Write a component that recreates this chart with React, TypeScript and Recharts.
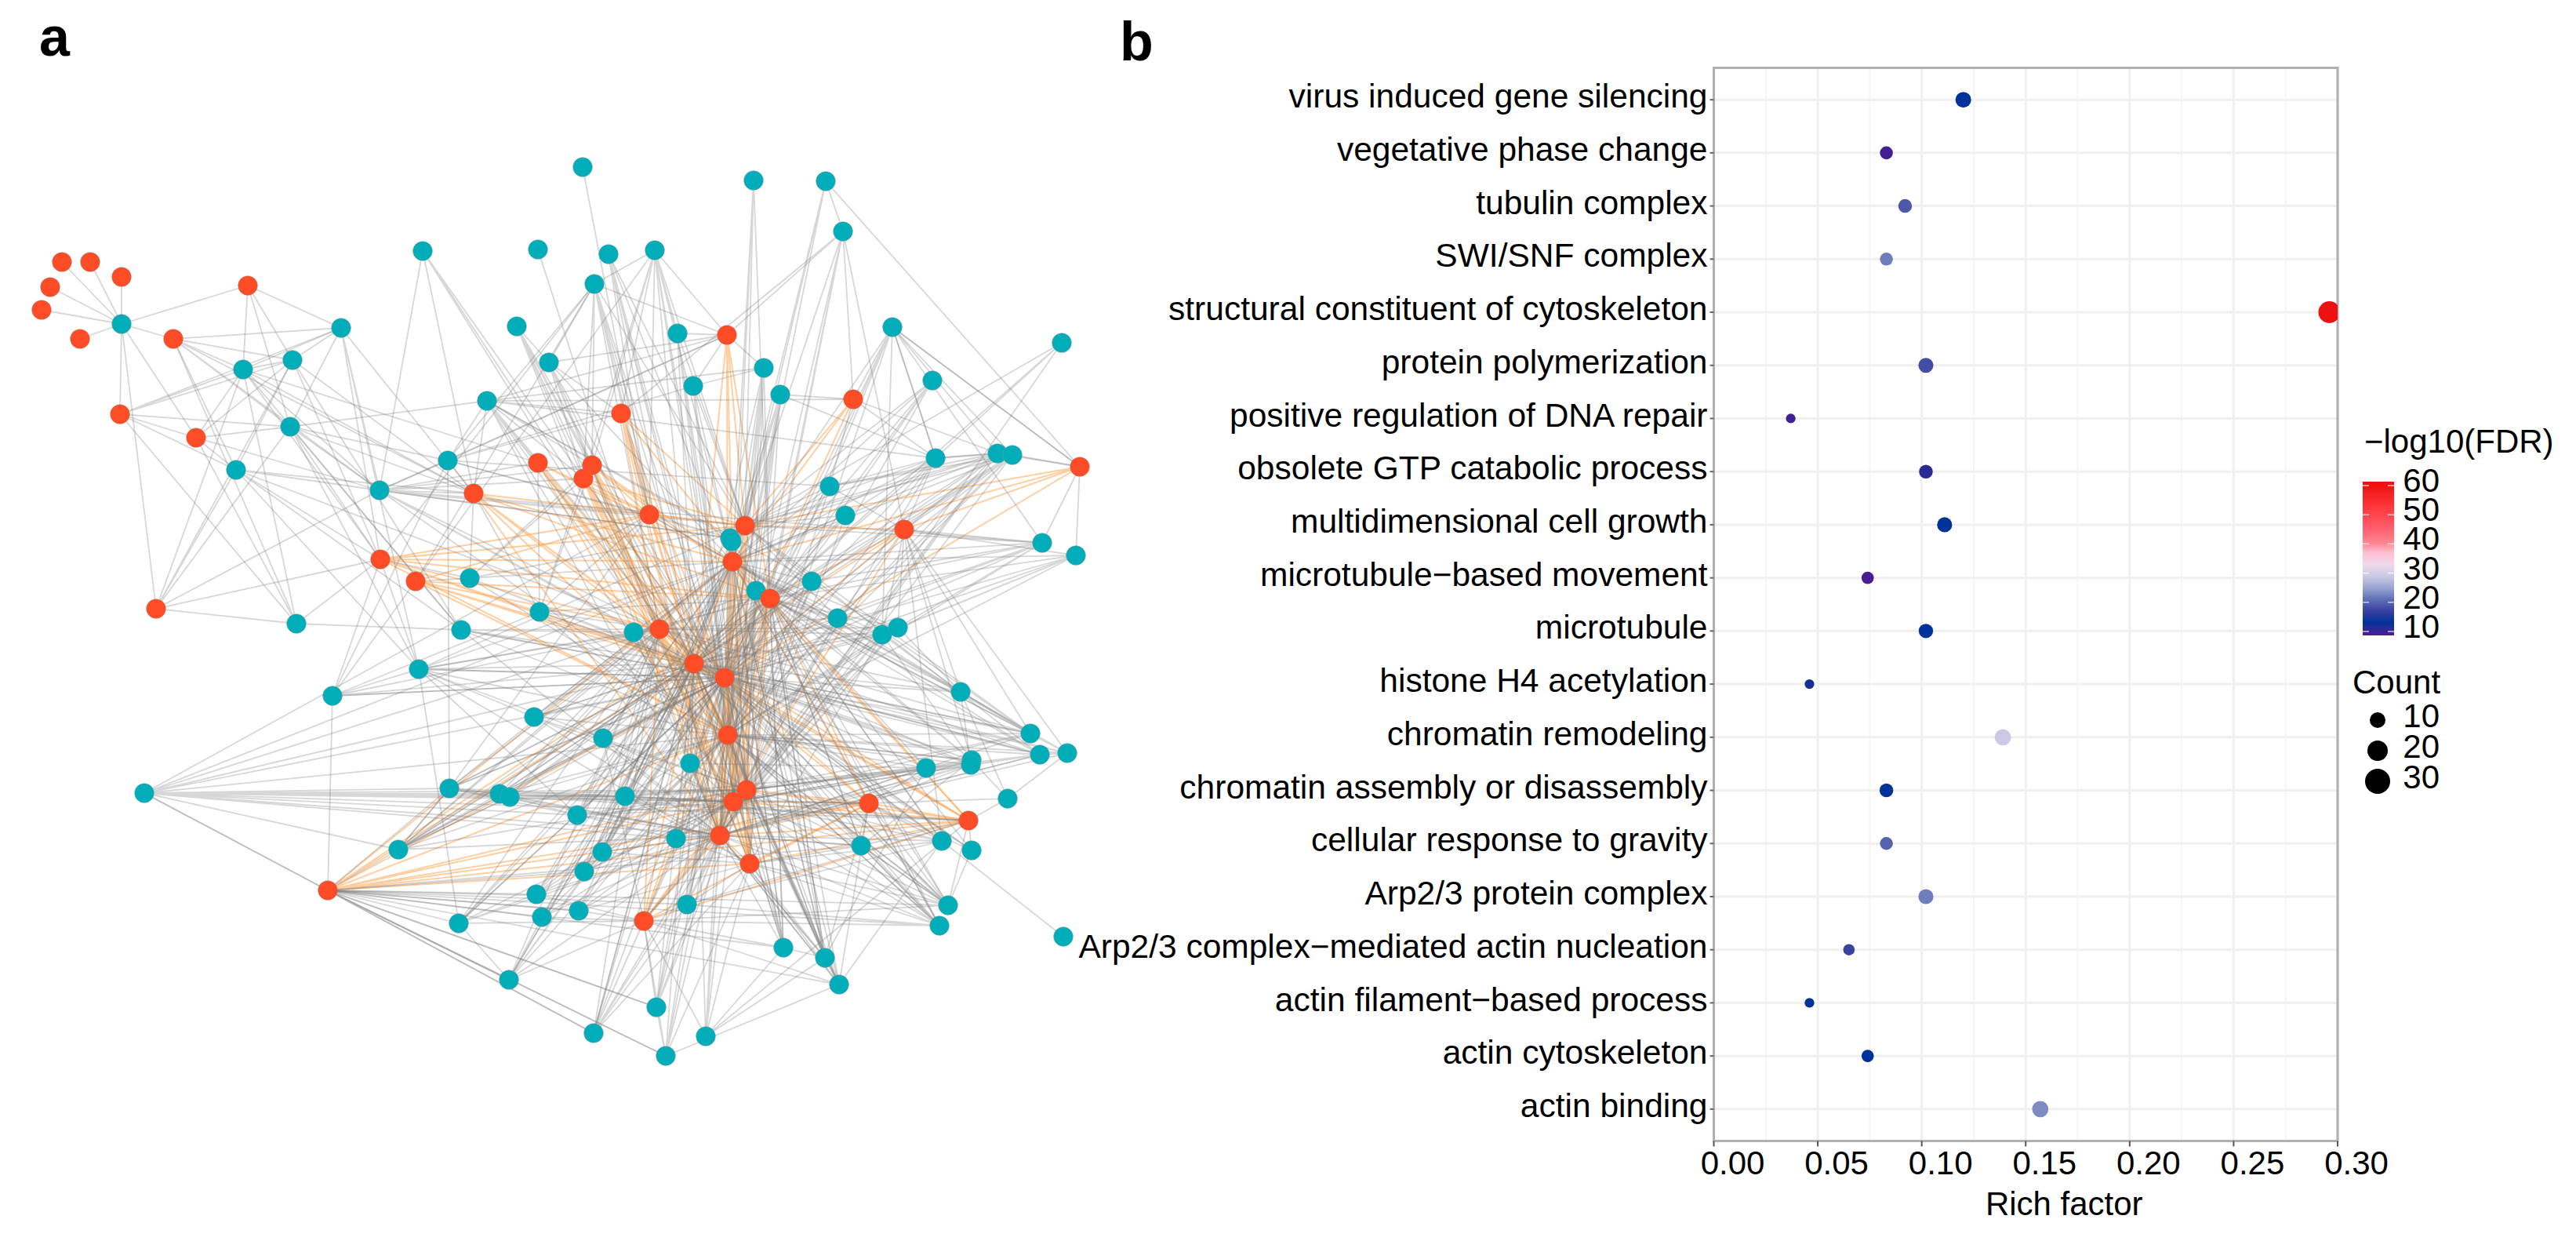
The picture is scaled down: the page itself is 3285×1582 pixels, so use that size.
import * as React from "react";
import {
  CartesianGrid,
  Cell,
  ComposedChart,
  Line,
  ReferenceArea,
  Scatter,
  ScatterChart,
  XAxis,
  YAxis,
  ZAxis,
} from "recharts";

const FONT = '"Liberation Sans", Arial, sans-serif';

// panel a: layout position of every node
const redNodes = [
  [79, 334], [115, 334], [155, 353], [64, 366], [53, 395], [102, 432], [316, 364], [221, 432], [153, 528], [250, 558],
  [485, 713], [530, 741], [418, 1135], [199, 776], [604, 629], [686, 590], [755, 593], [744, 610], [792, 527], [927, 427],
  [1088, 509], [1377, 595], [828, 656], [950, 670], [1153, 675], [934, 716], [982, 763], [841, 802], [885, 846], [924, 864],
  [928, 937], [952, 1007], [935, 1022], [918, 1065], [956, 1101], [1108, 1024], [1235, 1046], [821, 1174],
];

const tealNodes = [
  [155, 413], [435, 418], [373, 459], [310, 471], [370, 544], [301, 599], [484, 625], [743, 213], [961, 230], [1053, 231],
  [1075, 295], [539, 320], [686, 318], [776, 324], [835, 319], [758, 362], [659, 416], [864, 425], [700, 462], [884, 492],
  [974, 469], [995, 503], [621, 511], [571, 587], [1138, 417], [1354, 437], [1189, 485], [1193, 584], [1272, 578], [1291, 580],
  [1058, 620], [1078, 657], [1329, 692], [1372, 708], [931, 686], [933, 690], [378, 795], [599, 737], [588, 803], [534, 853],
  [424, 887], [184, 1011], [573, 1005], [637, 1012], [650, 1016], [508, 1083], [585, 1177], [688, 780], [808, 806], [964, 753],
  [1035, 741], [1068, 788], [1125, 809], [1145, 800], [681, 914], [769, 941], [880, 973], [797, 1015], [736, 1039], [862, 1069],
  [768, 1086], [745, 1111], [684, 1140], [691, 1169], [738, 1161], [876, 1153], [1098, 1078], [999, 1208], [1052, 1221], [1070, 1255],
  [1356, 1194], [1314, 935], [1326, 962], [1361, 960], [1239, 969], [1238, 975], [1181, 979], [1285, 1018], [1201, 1072], [1239, 1084],
  [1209, 1154], [1198, 1180], [649, 1249], [837, 1284], [757, 1317], [900, 1321], [849, 1346], [1225, 882],
];

// panel a: grey links, read as source -> targets
const grayLinks = [
  ["t0", "r0 r1 r2 r3 r4 r5 r6 r7 r8 r9 r13"],
  ["r6", "t1 t2 t2 t3 t4 t4"],
  ["r7", "t1 t2 t3 t4 t4 t5 t6 r14"],
  ["r8", "t1 t2 t3 t3 t4 t5 r9"],
  ["r9", "t2 t2 t4 t4 t5 t6 t6 t3"],
  ["t1", "t2 t3 t6 t4 r10 r14 t39"],
  ["t2", "t3 t5 r14 r14 r10 t38"],
  ["t3", "r10 r14 t6 t38 r15"],
  ["t4", "r10 r10 r14 t38 t39 t6"],
  ["t5", "t6 r10 r14 r27 t39 t38"],
  ["t6", "r14 r15 t23 r16 r17 r19 r22 r23 r27 r28 r29 r30 t32 t34"],
  ["t7", "r22"],
  ["t8", "r30 t67 r23 r25"],
  ["t9", "r21 t10 r25 r25 r29 r23"],
  ["t10", "r19 r19 r20 r24 r25 r26 r30 r33 r18"],
  ["t11", "t6 r14 r27 r28 r28 r29"],
  ["t12", "r27"],
  ["t13", "r22 r23 r23 r28 r29 r25 r30 r31"],
  ["t14", "r19 t17 r18 r22 r23 r25 r28 r29 r17 r16 r11 r30"],
  ["t15", "t14 r19 r16 r17 r22 r23 r27 r28 r29 r33 r10 r11 r30 r30"],
  ["t16", "t18 r16 r17 r17 r28 r27 r27 r29 r33"],
  ["t17", "r19 r23 r28 r29 r31 r34 r32 r23"],
  ["t18", "t15 r18 r19 r16 r17 r27 r28 r29 r34 r30 r25"],
  ["t19", "r19 r23 r25 r30 r31 r32 r23 r29"],
  ["t20", "t19 r19 r23 r23 r25 r26 r28 r29 r30 r31 r32 r33"],
  ["t21", "r20 t27 r23 r25 r28 r29 r30 r32 r33 r34 r25"],
  ["t22", "r19 r18 t20 r16 r17 r15 r28 r29 r30 t4 t23 r14 r33 r32 r20 t27"],
  ["t23", "t4 r14 r19 t15 t6 t42 t19 r18 r22 t40 t30"],
  ["t24", "r21 r20 t52 r25 r26 r26 r29 r33 r37 t27"],
  ["t25", "r23 r26 r33 t27"],
  ["t26", "r25 r26 r28 r29 r30 t34"],
  ["t27", "r20 r23 r25 r26 r28 r29 r30 r24 t30 t31 r32 t24 t28"],
  ["t28", "r21 r20 t24 t27 r23 r25 r26 r28 r29 r30 r33 r24 t30 t31 t34 r31 r32 t29"],
  ["t29", "r21 t24 r23 r25 r26 r28 r29 r30 r24 t30 t50 t51 r33"],
  ["t30", "r23 r25 r26 r24 r28 r29 r33 r20"],
  ["t31", "r23 r25 r26 r28 r29 r31"],
  ["t32", "r24 r24 r21 t24 r26 r28 r29 r30 t53 r25 t51 r23 t50"],
  ["t33", "r21 r24 r24 r26 r28 r25 r30 r29 t53 t52"],
  ["t34", "r22 r25 r27 r28 r29 r30 r31 t6 r32 r33 t22 t23 r26"],
  ["t36", "r13 r10 r10 t38 r8 r9 r7 t3"],
  ["t37", "r16 r17 r14 r23 r25 r28 r29 r30 r11"],
  ["t38", "t48 r27 r28 r29 r30 r33"],
  ["t39", "t40 t40 r10 r27 r28 r29 r30 t55 r25 r23 t58 r34"],
  ["t40", "r10 r11 r27 r28 r29 t47"],
  ["t41", "r25 r27 r28 r28 r29 r22 r30 t42 t43 t44 t57 r31 r32 r33 t58 t59 t45 r12 t66 r36"],
  ["t42", "t43 r27 r28 r29 r22 t45 r32 r12 r33"],
  ["t43", "r31 r32 r33 r28 r29 t57 r27 r30 r36 t42 r35 t45"],
  ["t44", "r31 r32 r32 r33 r28 r29 t57 r27 r30 r36 r35 r25 r26 t45"],
  ["t45", "r12 r27 r28 t42 r29 r30 r31 r33 t44 t44"],
  ["t46", "t39 t82 r12 t62 r27 r28 t60 r29 r33 r37"],
  ["t47", "r22 r27 r28 r29 r30 r31 r14 r15 r16 r17 r26"],
  ["t48", "r27 r28 r25 r29 r30 r33 r26 t39"],
  ["t49", "r26 r25 r28 r29 r30 r31 r32 r33 r34 r27"],
  ["t50", "r23 r25 r26 r28 r29 r30 r31 r33 r27 t22"],
  ["t51", "r25 r26 r28 r29 r30 r31 r24 r23 r27 r32"],
  ["t52", "r24 r25 r26 r28 r29 r30 r31 r27 r32 r34 r37"],
  ["t53", "r24 r26 r28 r29 r25 r37 r33 r31 r30 r27"],
  ["t54", "r27 r28 r29 r30 r32 r33 t39 r25 r31"],
  ["t55", "r27 r28 r29 r31 r32 r33 r25 r37"],
  ["t56", "r28 r29 r30 r31 r32 r33 r25 r26"],
  ["t57", "r28 r29 r30 r31 r32 r33 r26 r27 r34"],
  ["t58", "r28 r29 r31 r32 r33 r25 t44 r27 t42 r35"],
  ["t59", "r28 r29 r30 r31 r33 r32 t58 r34"],
  ["t60", "r27 r28 r29 r30 r31 r32 r33 r34 r25"],
  ["t61", "r27 r28 r29 r30 r31 r33 r25 r32"],
  ["t62", "r28 r29 r30 r32 r12 t60 r33 r37"],
  ["t63", "r28 r29 r30 r33 r37 r12 r31"],
  ["t64", "r28 r29 r31 r33 r37 r12 r34 r30"],
  ["t65", "r28 r29 r30 r31 r32 r33 r34 r37 r12 r36"],
  ["t66", "r28 r29 r30 r31 r32 r33 r34 r35 r26 r36 t80 t81 r12"],
  ["t67", "r25 r28 r29 r30 t68 t85 r37 r12"],
  ["t68", "r25 r28 r29 r30 r31 r33 r34 r26 r23 t69 r35 t85 t76"],
  ["t69", "r12 r31 r34 t68 r35 t78 r33 t86 r37"],
  ["t70", "t78"],
  ["t71", "r25 r26 r28 r29 r30 r23 r27 t87 t50 t51 r24 r31 r32 r22"],
  ["t72", "t76 t76 t75 r26 r29 r28 r31 r32 r27 r25 r23 r33"],
  ["t73", "t77 t72 r24 r26 r28 r29 t87 r30"],
  ["t74", "r26 r25 r28 r29 r30 r31 r32 r33 t66 r24 t52"],
  ["t75", "t76 r27 r28 r29 r31 r32 r33 r35 t59 r30 t87"],
  ["t76", "r30 r31 r31 r32 r32 r33 r35 r28 r29 r26 t56 t57"],
  ["t77", "t87 t74 r36 r35"],
  ["t78", "r24 r26 r28 r29 r30 r31 r32 r33 r35 t65 r34"],
  ["t79", "r36 r26 r27 r28 r35"],
  ["t80", "r28 r25 r35 r29 r30 r33 r34 r36 r12 r37 t66 r32 t79"],
  ["t81", "r12 r37 r33 r34 r35 r29 r30 r28 r31 r32 t66 t65"],
  ["t82", "r12 r29 r27 r30 r33 r37 t60 r28"],
  ["t83", "r37 r28 r29 r30 r33 r31 r12 r32"],
  ["t84", "r12 r37 r27 r28 r29 r30 r32 r33 t65 r34"],
  ["t85", "r29 r30 r32 r33 r34 r37 r36"],
  ["t86", "r12 r37 r29 r30 r33 r28 r34 t83"],
  ["t87", "t52 t53 r25 r26 r27 r28 r29 t49 r22 r24 t71"],
  ["r10", "r13 t37"],
  ["r12", "t40 t41 t82 t82 t84 t84 t83 t86 t64 t61"],
  ["r13", "t3 t2 t4 t5 t6 t3"],
  ["r21", "t24"],
  ["r25", "t42 t45 t54 t55 t60 t61 t62 t82 t84 t83 t67 t68 t69 t81"],
  ["r28", "t42 t43 t45 t54 t60 t82 t84 t85 t67 t68 t69 t71 t72"],
  ["r29", "t38 t39 t40 t42 t43 t45 t46 t67 t68 t69 t78 t79 t80"],
  ["r26", "t46 t45 t60 t65 t66 t67 t68 t69 t78 t80 t81"],
  ["r30", "t68 t69 t80 t81 t72 t74"],
  ["r33", "t67 t68 t69 t71 t72 t73"],
];

// panel a: orange links between the red nodes
const orangeLinks = [
  ["r19", "r23 r25 r28 r30 r26"],
  ["r18", "r22 r27 r28 r29 r30 r23 r33 r26"],
  ["r15", "r27 r28 r29 r25 r22 r30 r32"],
  ["r16", "r22 r27 r28 r29 r30 r33 r25 r34 r26"],
  ["r17", "r27 r28 r29 r30 r33 r22 r32 r23"],
  ["r14", "r22 r23 r27 r28 r29 r30 r25 r33 r26"],
  ["r10", "r22 r27 r28 r29 r25 r23 r30 r26"],
  ["r11", "r27 r28 r29 r30 r22 r26"],
  ["r12", "r28 r29 r30 r26 r31 r32 r33 r34 r35 r36 r25"],
  ["r20", "r29 r25 r23"],
  ["r21", "r23 r24 r25 r29"],
  ["r24", "r23 r26 r28 r29 r32"],
  ["r22", "r28 r29 r23"],
  ["r23", "r25 r28 r29 r30 r31 r32 r33 r34"],
  ["r25", "r28 r29 r30 r31 r32 r33 r34 r36 r35"],
  ["r26", "r28 r29 r30 r31 r32 r33 r34 r36 r35 r37"],
  ["r27", "r28 r29 r30 r31 r32 r33 r34 r36 r37"],
  ["r28", "r29 r30 r31 r32 r33 r34 r35 r36 r37"],
  ["r29", "r30 r31 r32 r33 r34 r35 r36 r37"],
  ["r30", "r31 r32 r33 r34"],
  ["r31", "r32 r33 r35 r36 r34 r37"],
  ["r32", "r35 r36 r37 r33 r34"],
  ["r33", "r36 r35 r34 r37"],
  ["r34", "r36 r35"],
  ["r35", "r36 r37"],
  ["r36", "r37"],
];

// panel b
const terms = [
  "virus induced gene silencing",
  "vegetative phase change",
  "tubulin complex",
  "SWI/SNF complex",
  "structural constituent of cytoskeleton",
  "protein polymerization",
  "positive regulation of DNA repair",
  "obsolete GTP catabolic process",
  "multidimensional cell growth",
  "microtubule\u2212based movement",
  "microtubule",
  "histone H4 acetylation",
  "chromatin remodeling",
  "chromatin assembly or disassembly",
  "cellular response to gravity",
  "Arp2/3 protein complex",
  "Arp2/3 complex\u2212mediated actin nucleation",
  "actin filament\u2212based process",
  "actin cytoskeleton",
  "actin binding",
];
const richFactor = [0.12, 0.083, 0.092, 0.083, 0.296, 0.102, 0.037, 0.102, 0.111, 0.074, 0.102, 0.046, 0.139, 0.083, 0.083, 0.102, 0.065, 0.046, 0.074, 0.157];
const counts = [10, 6, 7, 6, 22, 9, 2, 7, 9, 5, 8, 2, 11, 7, 6, 9, 4, 2, 5, 11];
const logFdr = [13, 9.5, 19, 22, 60, 18, 9.5, 11, 13, 9, 13, 12, 29, 13, 20, 22, 17, 13, 13, 23];
const xTicks = [0, 0.05, 0.1, 0.15, 0.2, 0.25, 0.3];
const xMinorTicks = [0.025, 0.075, 0.125, 0.175, 0.225, 0.275];
const fdrLegendTicks = [60, 50, 40, 30, 20, 10];
const countLegendTicks = [10, 20, 30];

// colour bar stops: -log10(FDR) -> colour
const fdrStops: [number, string][] = [
  [9, "#4a1d92"], [11, "#2a2a96"], [13, "#003299"], [17, "#3a419f"], [21, "#5f6fb5"], [25, "#9aa5d0"],
  [29, "#cbc9e6"], [33, "#f0d8ea"], [37, "#ffbfd4"], [40, "#ff8a95"], [45, "#ff6070"], [52, "#ff3b3f"], [60, "#ee1111"],
];

function fdrColor(v: number) {
  for (let i = 1; i < fdrStops.length; i++) {
    if (v <= fdrStops[i][0]) {
      const [a, ca] = fdrStops[i - 1];
      const [b, cb] = fdrStops[i];
      const t = Math.max(0, (v - a) / (b - a));
      const mix = (s: number) =>
        Math.round(parseInt(ca.slice(s, s + 2), 16) * (1 - t) + parseInt(cb.slice(s, s + 2), 16) * t);
      return `rgb(${mix(1)},${mix(3)},${mix(5)})`;
    }
  }
  return fdrStops[fdrStops.length - 1][1];
}

const nodePoint = (id: string) => {
  const [x, y] = (id[0] === "r" ? redNodes : tealNodes)[Number(id.slice(1))];
  return { x, y };
};

// star path: source, target, source, target ...
const linkPath = (source: string, targets: string) =>
  targets.split(" ").flatMap((t) => [nodePoint(source), nodePoint(t)]);

const toPoints = (nodes: number[][]) => nodes.map(([x, y]) => ({ x, y }));

const dotData = terms.map((term, i) => ({
  term,
  rank: terms.length - i,
  rich: richFactor[i],
  count: counts[i],
  fdr: logFdr[i],
}));
const rankTicks = dotData.map((d) => d.rank);

function Network() {
  return (
    <ComposedChart width={1400} height={1582} margin={{ top: 0, right: 0, bottom: 0, left: 0 }}>
      <XAxis dataKey="x" type="number" domain={[0, 1400]} hide allowDataOverflow />
      <YAxis dataKey="y" type="number" domain={[0, 1582]} reversed hide />
      <ZAxis range={[480, 480]} />
      {orangeLinks.map(([s, t], i) => (
        <Line
          key={`o${i}`}
          data={linkPath(s, t)}
          dataKey="y"
          stroke="#ffa855"
          strokeOpacity={0.55}
          strokeWidth={2}
          strokeLinejoin="round"
          dot={false}
          activeDot={false}
          legendType="none"
          isAnimationActive={false}
        />
      ))}
      {grayLinks.map(([s, t], i) => (
        <Line
          key={`g${i}`}
          data={linkPath(s, t)}
          dataKey="y"
          stroke="#7a7a7a"
          strokeOpacity={0.3}
          strokeWidth={1.8}
          strokeLinejoin="round"
          dot={false}
          activeDot={false}
          legendType="none"
          isAnimationActive={false}
        />
      ))}
      <Scatter data={toPoints(tealNodes)} fill="#02adba" stroke="#7f9a9c" strokeOpacity={0.5} isAnimationActive={false} />
      <Scatter data={toPoints(redNodes)} fill="#fe4c27" stroke="#9a7a70" strokeOpacity={0.4} isAnimationActive={false} />
    </ComposedChart>
  );
}

function DotPlot() {
  return (
    <ScatterChart width={1945} height={1582} margin={{ top: 86.5, right: 304, bottom: 47.5, left: 15.5 }}>
      <CartesianGrid horizontal={false} verticalValues={xMinorTicks} stroke="#f5f5f5" strokeWidth={2} />
      <CartesianGrid stroke="#f0f0f0" strokeWidth={3} />
      <XAxis
        dataKey="rich"
        type="number"
        domain={[0, 0.3]}
        ticks={xTicks}
        allowDataOverflow
        height={80}
        tickFormatter={(v: number) => v.toFixed(2)}
        tick={{ fontSize: 42, fill: "#000", dx: 24 }}
        tickSize={7}
        tickMargin={6}
        tickLine={{ stroke: "#555", strokeWidth: 2 }}
        axisLine={false}
        label={{ value: "Rich factor", position: "bottom", dx: 49, dy: -20, fontSize: 42, fill: "#000" }}
      />
      <YAxis
        dataKey="rank"
        type="number"
        domain={[0.4, 20.6]}
        ticks={rankTicks}
        interval={0}
        width={830}
        tickFormatter={(v: number) => terms[terms.length - v]}
        tick={{ fontSize: 42.5, fill: "#000", dy: -5 }}
        tickSize={5}
        tickMargin={3}
        tickLine={{ stroke: "#666", strokeWidth: 2 }}
        axisLine={false}
      />
      <ZAxis dataKey="count" type="number" domain={[0, 30]} range={[69, 804]} />
      <ReferenceArea x1={0} x2={0.3} y1={0.4} y2={20.6} fill="none" stroke="#b0b0b0" strokeWidth={3} />
      <ReferenceArea x1={0} x2={0.3} y1={0.4} y2={0.4} fill="none" stroke="#707070" strokeWidth={3} />
      <Scatter data={dotData} isAnimationActive={false}>
        {dotData.map((d) => (
          <Cell key={d.term} fill={fdrColor(d.fdr)} />
        ))}
      </Scatter>
    </ScatterChart>
  );
}

function Legends() {
  const barY = (v: number) => 805 - (v - 10) * 3.72;
  const barTop = barY(60) - 5;
  const barBottom = barY(10) + 5;
  return (
    <svg width={3285} height={1582} style={{ position: "absolute", left: 0, top: 0, pointerEvents: "none" }} fontFamily={FONT}>
      <defs>
        <linearGradient id="fdrBar" x1="0" y1="0" x2="0" y2="1">
          {[...fdrStops].reverse().map(([v, c]) => (
            <stop key={v} offset={`${((barY(v) - barTop) / (barBottom - barTop)) * 100}%`} stopColor={c} />
          ))}
        </linearGradient>
      </defs>
      <text x={50} y={71} fontSize={70} fontWeight="bold">a</text>
      <text x={1428} y={77} fontSize={70} fontWeight="bold">b</text>

      <text x={3015} y={577} fontSize={42}>{"\u2212log10(FDR)"}</text>
      <rect x={3013} y={barTop} width={40} height={barBottom - barTop} fill="url(#fdrBar)" />
      {fdrLegendTicks.map((v) => (
        <g key={v}>
          <line x1={3013} x2={3021} y1={barY(v)} y2={barY(v)} stroke="#fff" strokeOpacity={0.7} strokeWidth={1.5} />
          <line x1={3045} x2={3053} y1={barY(v)} y2={barY(v)} stroke="#fff" strokeOpacity={0.7} strokeWidth={1.5} />
          <text x={3111} y={barY(v) + 8} fontSize={42} textAnchor="end">{v}</text>
        </g>
      ))}

      <text x={3000} y={884} fontSize={42}>Count</text>
      {countLegendTicks.map((v, i) => (
        <g key={v}>
          <circle cx={3032} cy={918 + i * 39} r={10 + i * 3} fill="#000" />
          <text x={3111} y={927 + i * 39} fontSize={42} textAnchor="end">{v}</text>
        </g>
      ))}
    </svg>
  );
}

export default function App() {
  return (
    <div style={{ position: "absolute", left: 0, top: 0, width: 3285, height: 1582, background: "#fff", fontFamily: FONT, overflow: "hidden" }}>
      <div style={{ position: "absolute", left: 0, top: 0 }}>
        <Network />
      </div>
      <div style={{ position: "absolute", left: 1340, top: 0 }}>
        <DotPlot />
      </div>
      <Legends />
    </div>
  );
}
